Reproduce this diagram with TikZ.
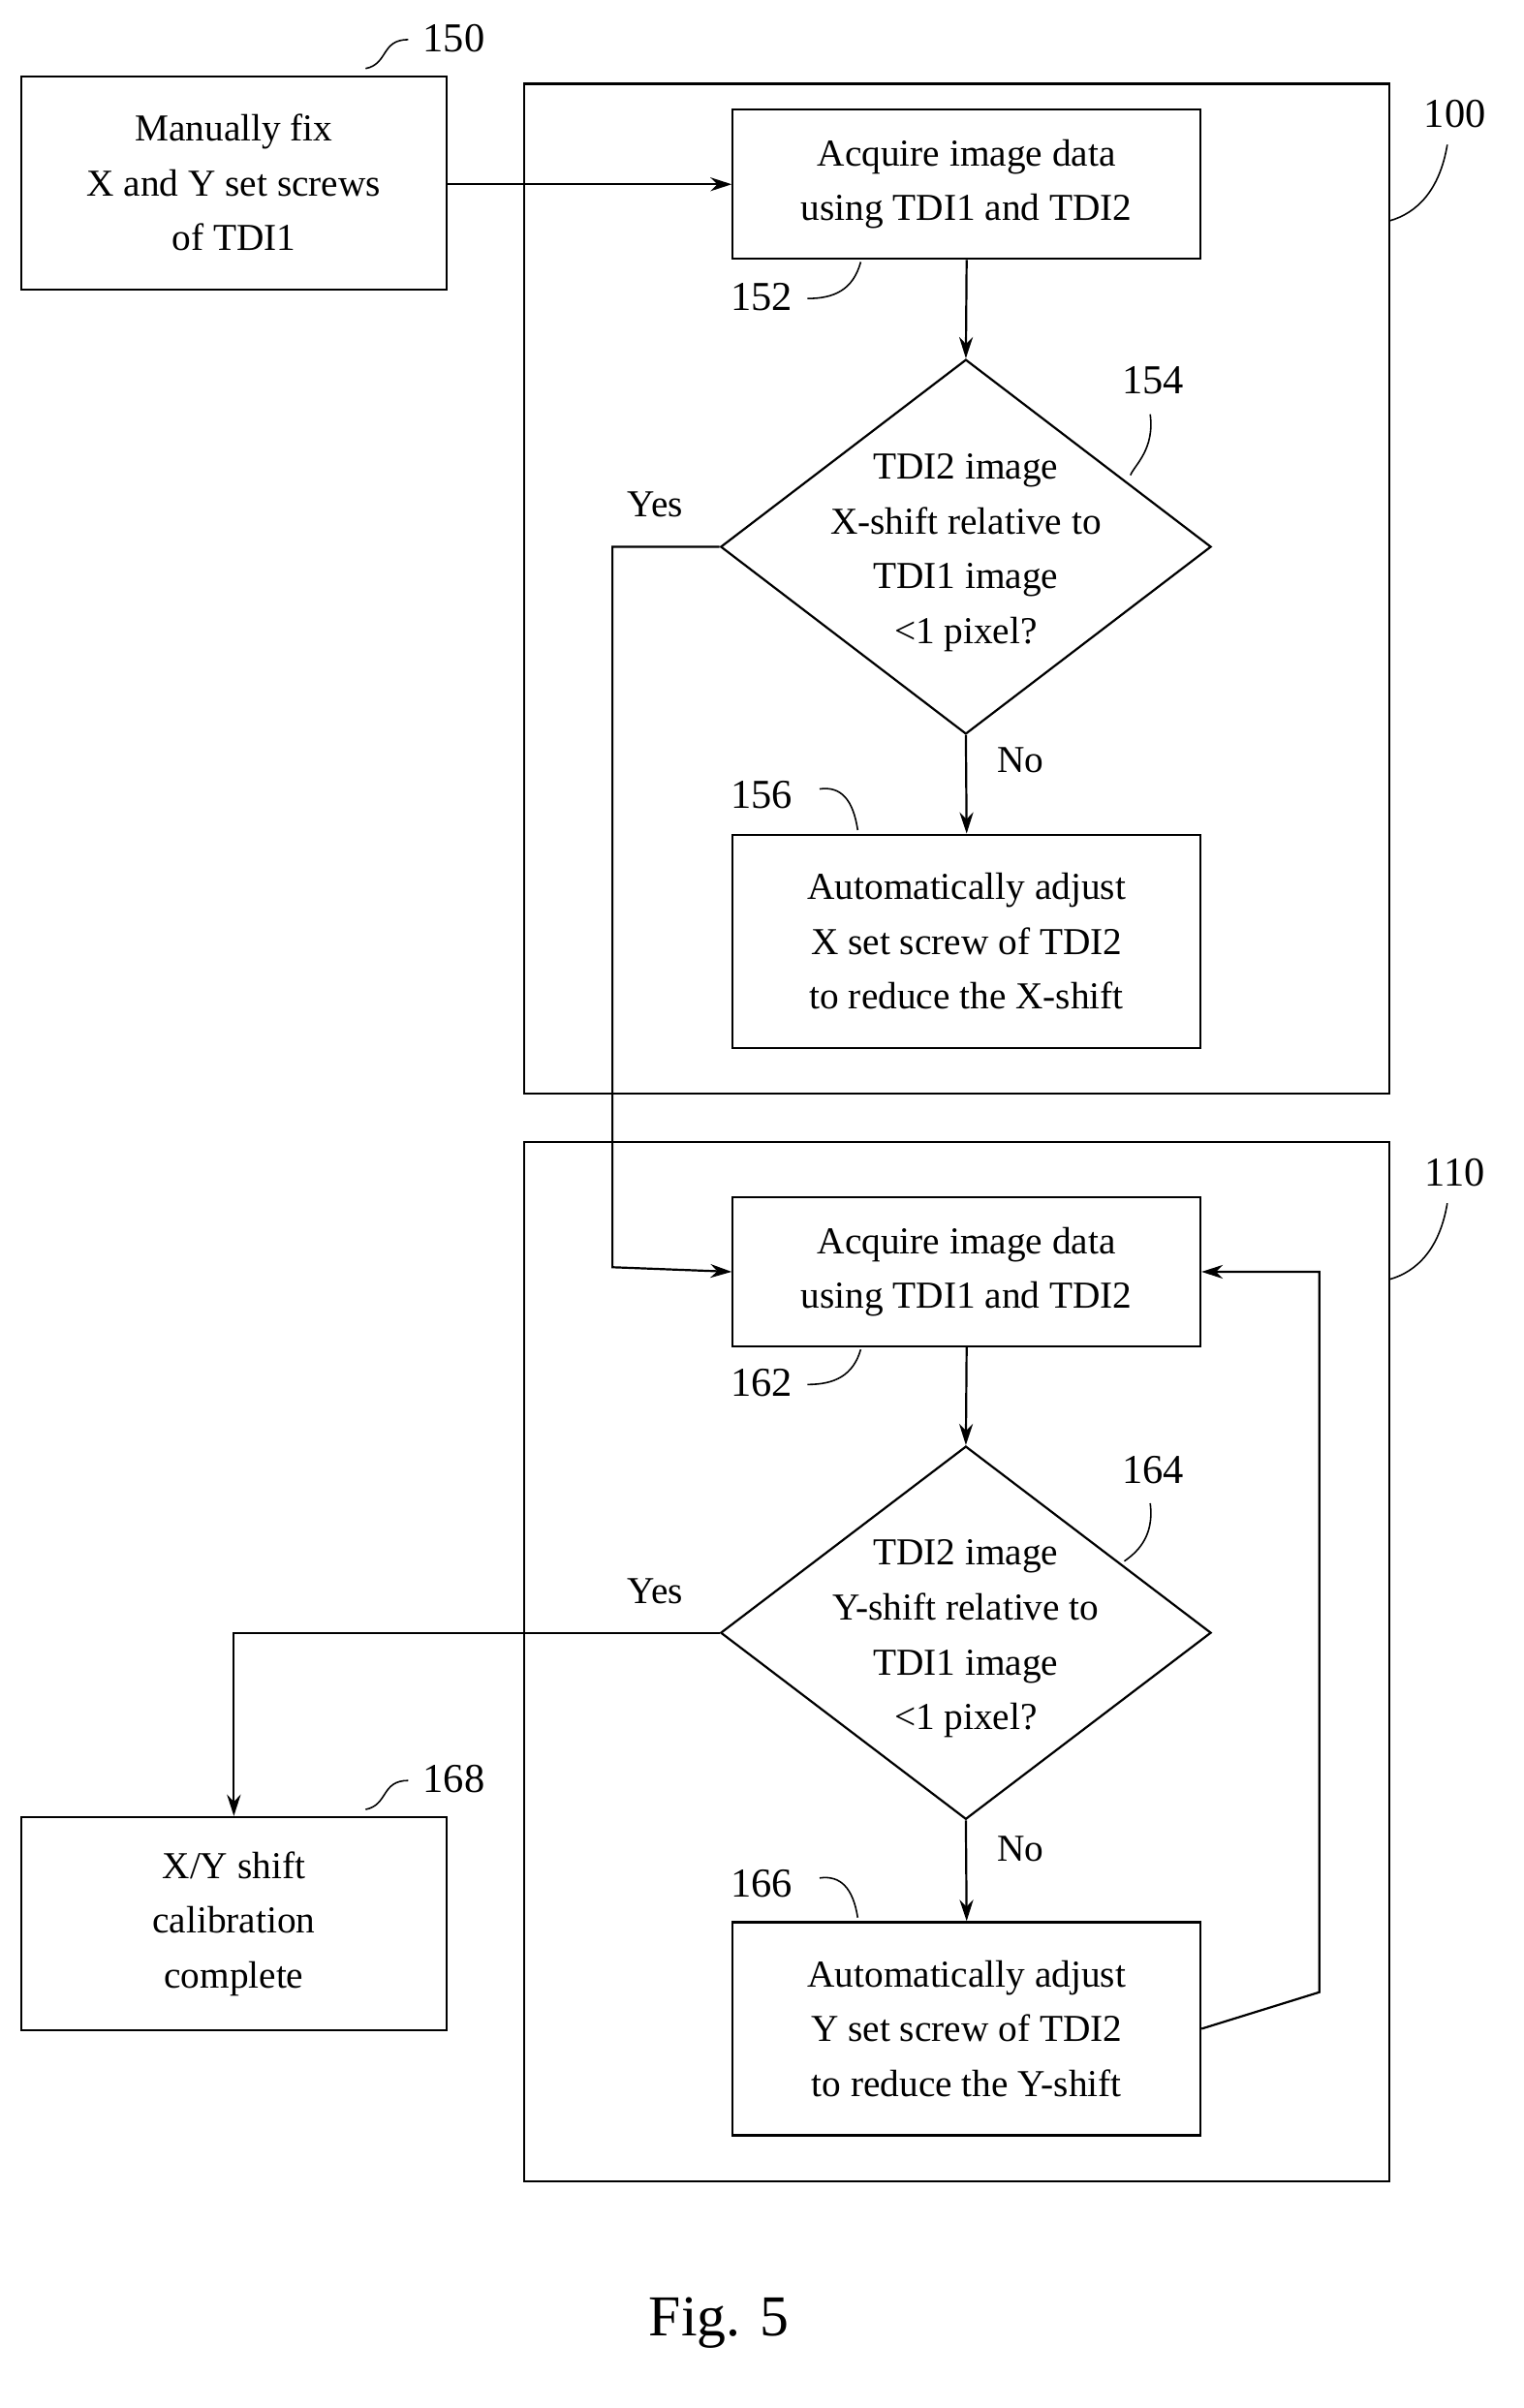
\documentclass[tikz,border=0pt]{standalone}
\usepackage{fontspec}
\setmainfont{Liberation Serif}
\usetikzlibrary{shapes.geometric,arrows.meta}
\begin{document}
\begin{tikzpicture}[x=1pt,y=-1pt,line width=1.4pt,
  txt/.style={font=\fontsize{25}{36}\selectfont,align=center},
  box/.style={draw,txt,inner sep=0pt},
  lab/.style={font=\fontsize{27}{30}\selectfont},
  arr/.style={-{Stealth[length=14pt,width=9pt]}},
  lead/.style={line width=1pt}]
\useasboundingbox (0,0) rectangle (1000,1581);
% frames
\draw (344,55) rectangle (912,718);
\draw (344,750) rectangle (912,1432);
% boxes
\node[box,minimum width=279pt,minimum height=140pt] (b150) at (153.5,120) {Manually fix\\X and Y set screws\\of TDI1};
\node[box,minimum width=307pt,minimum height=98pt] (b152) at (634.5,121) {Acquire image data\\using TDI1 and TDI2};
\node[draw,diamond,txt,minimum width=322pt,minimum height=246pt,inner sep=0pt] (d154) at (634,359) {};
\node[txt] at (634,363) {TDI2 image\\X-shift relative to\\TDI1 image\\<1 pixel?};
\node[box,minimum width=307pt,minimum height=140pt] (b156) at (634.5,618) {Automatically adjust\\X set screw of TDI2\\to reduce the X-shift};
\node[box,minimum width=307pt,minimum height=98pt] (b162) at (634.5,835) {Acquire image data\\using TDI1 and TDI2};
\node[draw,diamond,txt,minimum width=322pt,minimum height=245pt,inner sep=0pt] (d164) at (634,1072) {};
\node[txt] at (634,1076) {TDI2 image\\Y-shift relative to\\TDI1 image\\<1 pixel?};
\node[box,minimum width=307pt,minimum height=140pt] (b166) at (634.5,1332) {Automatically adjust\\Y set screw of TDI2\\to reduce the Y-shift};
\node[box,minimum width=279pt,minimum height=140pt] (b168) at (153.5,1263) {X/Y shift\\calibration\\complete};
% connectors
\draw[arr] (b150.east |- b152.west) -- (b152.west);
\draw[arr] (b152.south) -- (d154.north);
\draw[arr] (d154.south) -- (b156.north);
\draw[arr] (d154.west) -| (402,832) -- (b162.west);
\draw[arr] (b162.south) -- (d164.north);
\draw[arr] (d164.south) -- (b166.north);
\draw[arr] (b166.east) -- (866,1308) |- (b162.east);
\draw[arr] (d164.west) -| (b168.north);
% yes/no
\node[txt] at (430,331) {Yes};
\node[txt] at (430,1045) {Yes};
\node[txt] at (670,499) {No};
\node[txt] at (670,1214) {No};
% labels
\node[lab] (l150) at (298,25) {150};
\draw[lead] (268,26) .. controls (250,26) and (255,42) .. (240,45);
\node[lab] (l100) at (955,75) {100};
\draw[lead] (950,95) .. controls (945,125) and (930,140) .. (912,145);
\node[lab] (l110) at (955,770) {110};
\draw[lead] (950,790) .. controls (945,820) and (930,835) .. (912,840);
\node[lab] (l152) at (500,195) {152};
\draw[lead] (530,196) .. controls (548,196) and (560,190) .. (565,172);
\node[lab] (l162) at (500,908) {162};
\draw[lead] (530,909) .. controls (548,909) and (560,903) .. (565,886);
\node[lab] (l154) at (757,250) {154};
\draw[lead] (755,272) .. controls (758,295) and (745,305) .. (742,312);
\node[lab] (l164) at (757,965) {164};
\draw[lead] (755,987) .. controls (758,1010) and (745,1020) .. (738,1025);
\node[lab] (l156) at (500,522) {156};
\draw[lead] (538,518) .. controls (552,516) and (560,525) .. (563,545);
\node[lab] (l166) at (500,1237) {166};
\draw[lead] (538,1233) .. controls (552,1231) and (560,1240) .. (563,1259);
\node[lab] (l168) at (298,1168) {168};
\draw[lead] (268,1169) .. controls (250,1169) and (255,1185) .. (240,1188);
\node[font=\fontsize{38}{40}\selectfont] (fig) at (472,1525) {Fig. 5};
\end{tikzpicture}
\end{document}
